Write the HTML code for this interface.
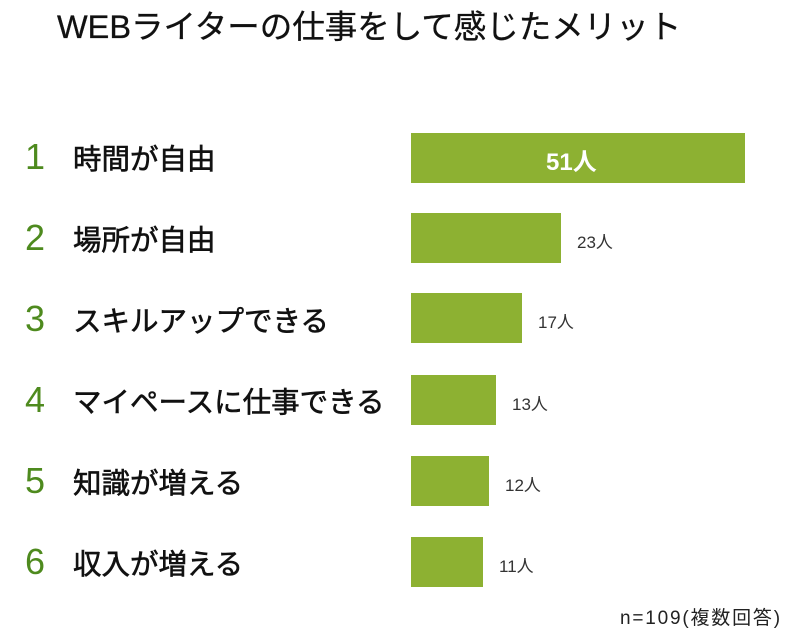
<!DOCTYPE html>
<html><head><meta charset="utf-8"><style>
body{margin:0;width:800px;height:634px;background:#fff;font-family:"Liberation Sans","Noto Sans CJK JP",sans-serif;position:relative;overflow:hidden}
.t{position:absolute;left:57px;top:1px;font-size:32.5px;color:#111;white-space:nowrap;-webkit-text-stroke:0.3px #111}
.n{position:absolute;left:20px;font-size:36px;color:#4e8a1e;width:30px;text-align:center}
.l{position:absolute;left:73px;font-size:28.5px;color:#111;white-space:nowrap;font-weight:normal;-webkit-text-stroke:0.6px #111}
.b{position:absolute;left:411px;height:50px;background:#8db132}
.v{position:absolute;font-size:17px;color:#333}
.f{position:absolute;left:620px;top:603px;font-size:19px;color:#222;letter-spacing:1.8px}
</style></head><body>
<div class="t">WEBライターの仕事をして感じたメリット</div>
<div class="n" style="top:136px">1</div><div class="l" style="top:137px">時間が自由</div>
<div class="b" style="top:133px;width:334px"></div><div class="v" style="left:546px;top:142px;color:#fff;font-size:24px;font-weight:bold">51人</div>
<div class="n" style="top:217px">2</div><div class="l" style="top:218px">場所が自由</div>
<div class="b" style="top:213px;width:150px"></div><div class="v" style="left:577px;top:228px">23人</div>
<div class="n" style="top:298px">3</div><div class="l" style="top:299px">スキルアップできる</div>
<div class="b" style="top:293px;width:111px"></div><div class="v" style="left:538px;top:308px">17人</div>
<div class="n" style="top:379px">4</div><div class="l" style="top:380px">マイペースに仕事できる</div>
<div class="b" style="top:375px;width:85px"></div><div class="v" style="left:512px;top:390px">13人</div>
<div class="n" style="top:460px">5</div><div class="l" style="top:461px">知識が増える</div>
<div class="b" style="top:456px;width:78px"></div><div class="v" style="left:505px;top:471px">12人</div>
<div class="n" style="top:541px">6</div><div class="l" style="top:542px">収入が増える</div>
<div class="b" style="top:537px;width:72px"></div><div class="v" style="left:499px;top:552px">11人</div>
<div class="f">n=109(複数回答)</div>
</body></html>
